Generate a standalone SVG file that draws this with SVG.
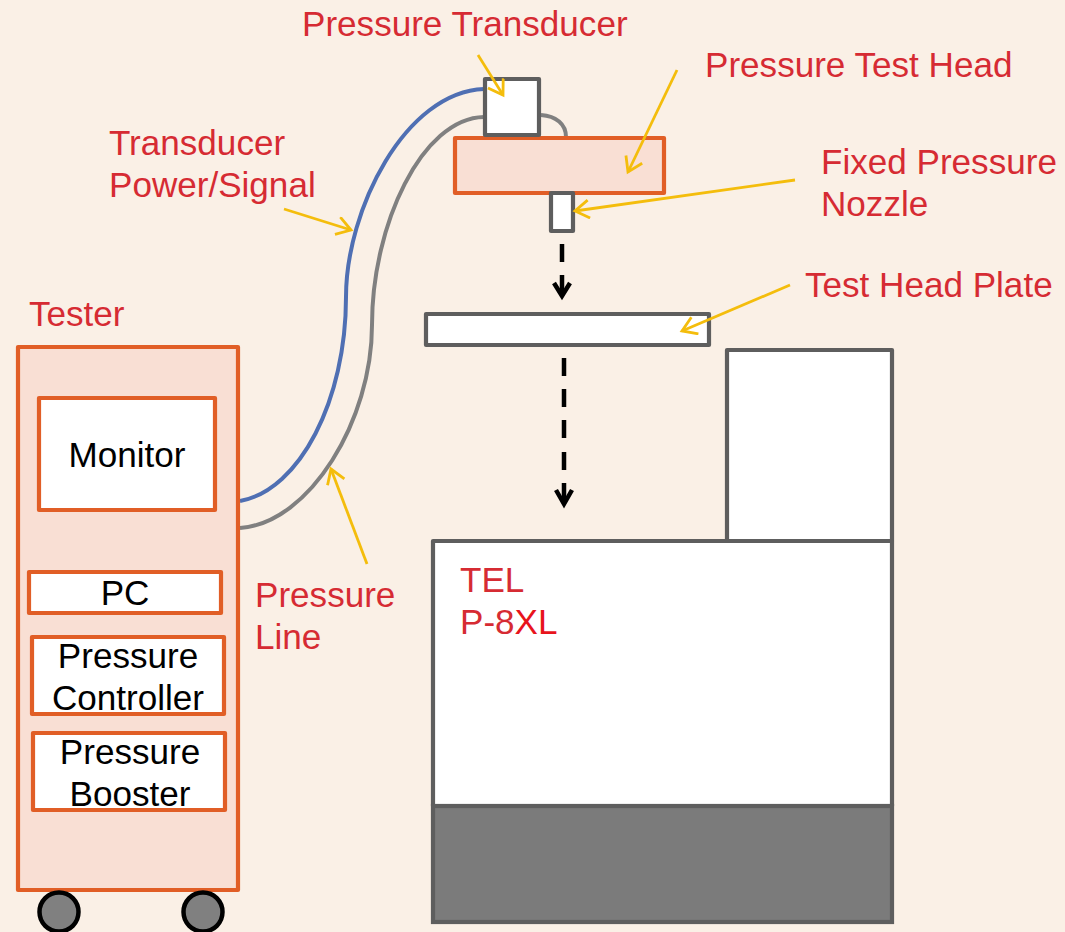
<svg xmlns="http://www.w3.org/2000/svg" width="1065" height="932" viewBox="0 0 1065 932">
<defs>
<marker id="ya" markerUnits="userSpaceOnUse" markerWidth="22" markerHeight="22" refX="17" refY="10" orient="auto"><path d="M3 1L17 10L3 19" fill="none" stroke="#f4bd0c" stroke-width="2.8"/></marker>
</defs>
<style>
text{font-family:"Liberation Sans",Arial,sans-serif;font-size:35.1px}
.r{fill:#d62b33}
.k{fill:#000;text-anchor:middle}
.o{stroke:#e15e26;stroke-width:4.2;stroke-linejoin:round}
.g{fill:#fff;stroke:#5e5e5e;stroke-width:4.2;stroke-linejoin:round}
.w{fill:#fff}
.p{fill:#f9dfd4}
.y{fill:none;stroke:#f4bd0c;stroke-width:2.8;marker-end:url(#ya)}
.c{fill:none;stroke-width:4}
.d{fill:none;stroke:#000;stroke-width:4.5}
.wh{fill:#808080;stroke:#000;stroke-width:4.5}
</style>
<rect width="1065" height="932" fill="#faf0e6"/>
<g id="connectors">
<path class="c" stroke="#4f6fb3" d="M240 501C300 490 346 400 346 297C346 210 405 92 484 89"/>
<path class="c" stroke="#808080" d="M240 528C310 523 372 420 372 325C372 225 422 118 484 117"/>
<path class="c" stroke="#808080" d="M541 115C556 116 566 124 566 137"/>
<path class="d" d="M562 244V262M562 275V295"/>
<path class="d" d="M554 283L562 296L570 283"/>
<path class="d" d="M564 358V376M564 389V407M564 420V438M564 452V470M564 483V503"/>
<path class="d" stroke-width="5" d="M556 490L564 504L572 490"/>
</g>
<g id="tester">
<rect class="o p" x="18" y="347" width="220" height="543"/>
<circle class="wh" cx="59" cy="912" r="19.5"/>
<circle class="wh" cx="203" cy="912" r="19.5"/>
</g>
<g id="monitor"><rect class="o w" x="39" y="398" width="176" height="112"/><text class="k" x="127" y="467">Monitor</text></g>
<g id="pc"><rect class="o w" x="29" y="572" width="192" height="41"/><text class="k" x="125" y="605">PC</text></g>
<g id="pressure-controller"><rect class="o w" x="32" y="637" width="192" height="77"/><text class="k" x="128" y="668">Pressure</text><text class="k" x="128" y="710">Controller</text></g>
<g id="pressure-booster"><rect class="o w" x="33" y="733" width="192" height="77"/><text class="k" x="130" y="764">Pressure</text><text class="k" x="130" y="806">Booster</text></g>
<g id="test-head"><rect class="o p" x="455" y="138" width="209" height="55"/></g>
<g id="transducer"><rect class="g" x="485" y="79" width="54" height="56"/></g>
<g id="nozzle"><rect class="g" x="551" y="193" width="22" height="38"/></g>
<g id="plate"><rect class="g" x="426" y="314" width="283" height="31"/></g>
<g id="tower"><rect class="g" x="727" y="350" width="165" height="191"/></g>
<g id="tel"><rect class="g" x="433" y="541" width="459" height="265"/><text x="460" y="592" fill="#d62b33">TEL</text><text x="460" y="634" fill="#d62b33">P-8<tspan fill="#e8141c">XL</tspan></text></g>
<g id="base"><rect x="433" y="806" width="459" height="116" fill="#7b7b7b" stroke="#5e5e5e" stroke-width="4.2"/></g>
<g id="labels">
<text class="r" x="302" y="36">Pressure Transducer</text>
<text class="r" x="705" y="77">Pressure Test Head</text>
<text class="r" x="109" y="155">Transducer</text>
<text class="r" x="109" y="197">Power/Signal</text>
<text class="r" x="821" y="174">Fixed Pressure</text>
<text class="r" x="821" y="216">Nozzle</text>
<text class="r" x="805" y="297">Test Head Plate</text>
<text class="r" x="29" y="326">Tester</text>
<text class="r" x="255" y="607">Pressure</text>
<text class="r" x="255" y="649">Line</text>
</g>
<g id="callouts">
<path class="y" d="M478 55L503 95"/>
<path class="y" d="M677 70L628 172"/>
<path class="y" d="M795 180L575 211"/>
<path class="y" d="M790 285L682 331"/>
<path class="y" d="M284 209L351 230"/>
<path class="y" d="M367 564L331 469"/>
</g>
</svg>
